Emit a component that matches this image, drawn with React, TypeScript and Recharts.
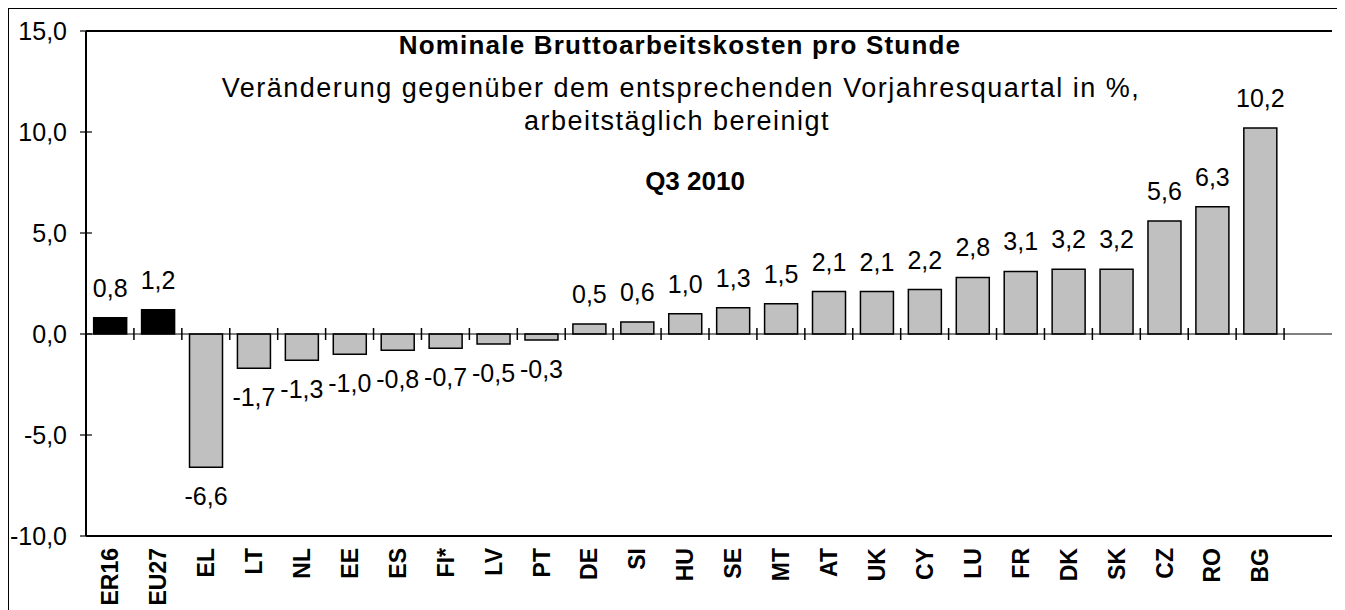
import React from 'react';
import { BarChart, Bar, XAxis, YAxis, Cell, LabelList, ReferenceLine, CartesianGrid } from 'recharts';

// last category is an empty slot, as in the original chart
const categories = ['ER16','EU27','EL','LT','NL','EE','ES','FI*','LV','PT','DE','SI','HU','SE','MT','AT','UK','CY','LU','FR','DK','SK','CZ','RO','BG',''];
const values: (number | null)[] = [0.8,1.2,-6.6,-1.7,-1.3,-1.0,-0.8,-0.7,-0.5,-0.3,0.5,0.6,1.0,1.3,1.5,2.1,2.1,2.2,2.8,3.1,3.2,3.2,5.6,6.3,10.2,null];
const highlighted = ['ER16','EU27'];
const yTicks = [-10,-5,0,5,10,15];
const Y_MIN = -10;
const Y_MAX = 15;

const titleText = 'Nominale Bruttoarbeitskosten pro Stunde';
const subtitle1 = 'Veränderung gegenüber dem entsprechenden Vorjahresquartal in %,';
const subtitle2 = 'arbeitstäglich bereinigt';
const periodText = 'Q3 2010';

const data = categories.map((c, i) => ({ name: c, value: values[i] }));

const FONT = 'Arial, "Liberation Sans", Helvetica, sans-serif';
const fmt = (v: number) => v.toFixed(1).replace('.', ',');

const YTick = (props: any) => {
  const { x, y, payload } = props;
  return (
    <g>
      <line x1={x + 13} x2={x + 25} y1={y} y2={y} stroke="#000" strokeWidth={1.2} />
      <text x={x} y={y} textAnchor="end" dominantBaseline="central" fontSize={25} fontFamily={FONT} fill="#000">
        {fmt(payload.value)}
      </text>
    </g>
  );
};

const XTick = (props: any) => {
  const { x, y, payload } = props;
  return (
    <text
      x={x}
      y={y}
      transform={`rotate(-90, ${x}, ${y})`}
      textAnchor="end"
      dy="0.36em"
      fontSize={23}
      fontWeight="bold"
      fontFamily={FONT}
      fill="#000"
    >
      {payload.value}
    </text>
  );
};

// category boundaries, derived from the plot offset the chart hands to the grid
const boundaryGenerator = ({ offset }: any) => {
  const out: number[] = [];
  if (!offset) return out;
  const band = offset.width / categories.length;
  for (let k = 1; k < categories.length; k++) out.push(offset.left + band * k);
  return out;
};

// a grid line spans the whole plot height; draw only a short piece crossing the zero line
const BoundaryTick = (props: any) => {
  const x = Number(props.x1);
  const top = Math.min(Number(props.y1), Number(props.y2));
  const bottom = Math.max(Number(props.y1), Number(props.y2));
  if (!isFinite(x) || !isFinite(top) || !isFinite(bottom)) return null;
  const zeroY = top + ((bottom - top) * (Y_MAX - 0)) / (Y_MAX - Y_MIN);
  return <line key={props.key} x1={x} x2={x} y1={zeroY - 6} y2={zeroY + 6} stroke="#000" strokeWidth={1.5} />;
};

const ValueLabel = (props: any) => {
  const { x, y, width, height, value } = props;
  if (value === null || value === undefined) return null;
  const top = Math.min(y, y + height);
  const bottom = Math.max(y, y + height);
  const cx = x + width / 2;
  if (value >= 0) {
    return (
      <text x={cx} y={top - 21} textAnchor="middle" fontSize={25} fontFamily={FONT} fill="#000">
        {fmt(value)}
      </text>
    );
  }
  return (
    <text x={cx} y={bottom + 20 + 18} textAnchor="middle" fontSize={25} fontFamily={FONT} fill="#000">
      {fmt(value)}
    </text>
  );
};

const textStyle: React.CSSProperties = {
  position: 'absolute',
  left: 0,
  width: '100%',
  textAlign: 'center',
  fontFamily: FONT,
  color: '#000',
  whiteSpace: 'nowrap',
  lineHeight: 1,
};

const frame = { stroke: '#000', strokeWidth: 2 };

export default function App() {
  return (
    <div
      style={{
        position: 'relative',
        width: 1334,
        height: 610,
        border: '1px solid #000',
        boxSizing: 'border-box',
        background: '#fff',
      }}
    >
      <BarChart
        width={1332}
        height={600}
        data={data}
        margin={{ top: 22, right: 9, bottom: 0, left: 17 }}
        barCategoryGap="16%"
      >
        <CartesianGrid
          horizontal={false}
          vertical={BoundaryTick}
          verticalCoordinatesGenerator={boundaryGenerator}
          stroke="#000"
        />
        <XAxis
          dataKey="name"
          axisLine={frame}
          tickLine={false}
          tickSize={6}
          tickMargin={6}
          height={73}
          interval={0}
          tick={<XTick />}
        />
        <YAxis
          domain={[Y_MIN, Y_MAX]}
          ticks={yTicks}
          allowDataOverflow
          axisLine={frame}
          tickLine={false}
          tickSize={6}
          tickMargin={13}
          width={60}
          interval={0}
          tick={<YTick />}
        />
        <YAxis
          yAxisId="r"
          orientation="right"
          domain={[Y_MIN, Y_MAX]}
          allowDataOverflow
          width={0}
          axisLine={frame}
          tickLine={false}
          tick={false}
        />
        <ReferenceLine y={Y_MAX} stroke="#000" strokeWidth={2} />
        <ReferenceLine y={0} stroke="#000" strokeWidth={1} />
        <Bar dataKey="value" isAnimationActive={false} stroke="#000" strokeWidth={1.5}>
          {data.map((d, i) => (
            <Cell key={i} fill={highlighted.includes(d.name) ? '#000' : '#c0c0c0'} />
          ))}
          <LabelList dataKey="value" content={<ValueLabel />} />
        </Bar>
      </BarChart>
      <div style={{ ...textStyle, top: 23, fontSize: 26, fontWeight: 'bold', left: 5, letterSpacing: 1.2 }}>{titleText}</div>
      <div style={{ ...textStyle, top: 66, fontSize: 27, left: 6, letterSpacing: 1.5 }}>{subtitle1}</div>
      <div style={{ ...textStyle, top: 99, fontSize: 27, left: 2, letterSpacing: 1.5 }}>{subtitle2}</div>
      <div style={{ ...textStyle, top: 159, fontSize: 26, fontWeight: 'bold', left: 20 }}>{periodText}</div>
    </div>
  );
}
